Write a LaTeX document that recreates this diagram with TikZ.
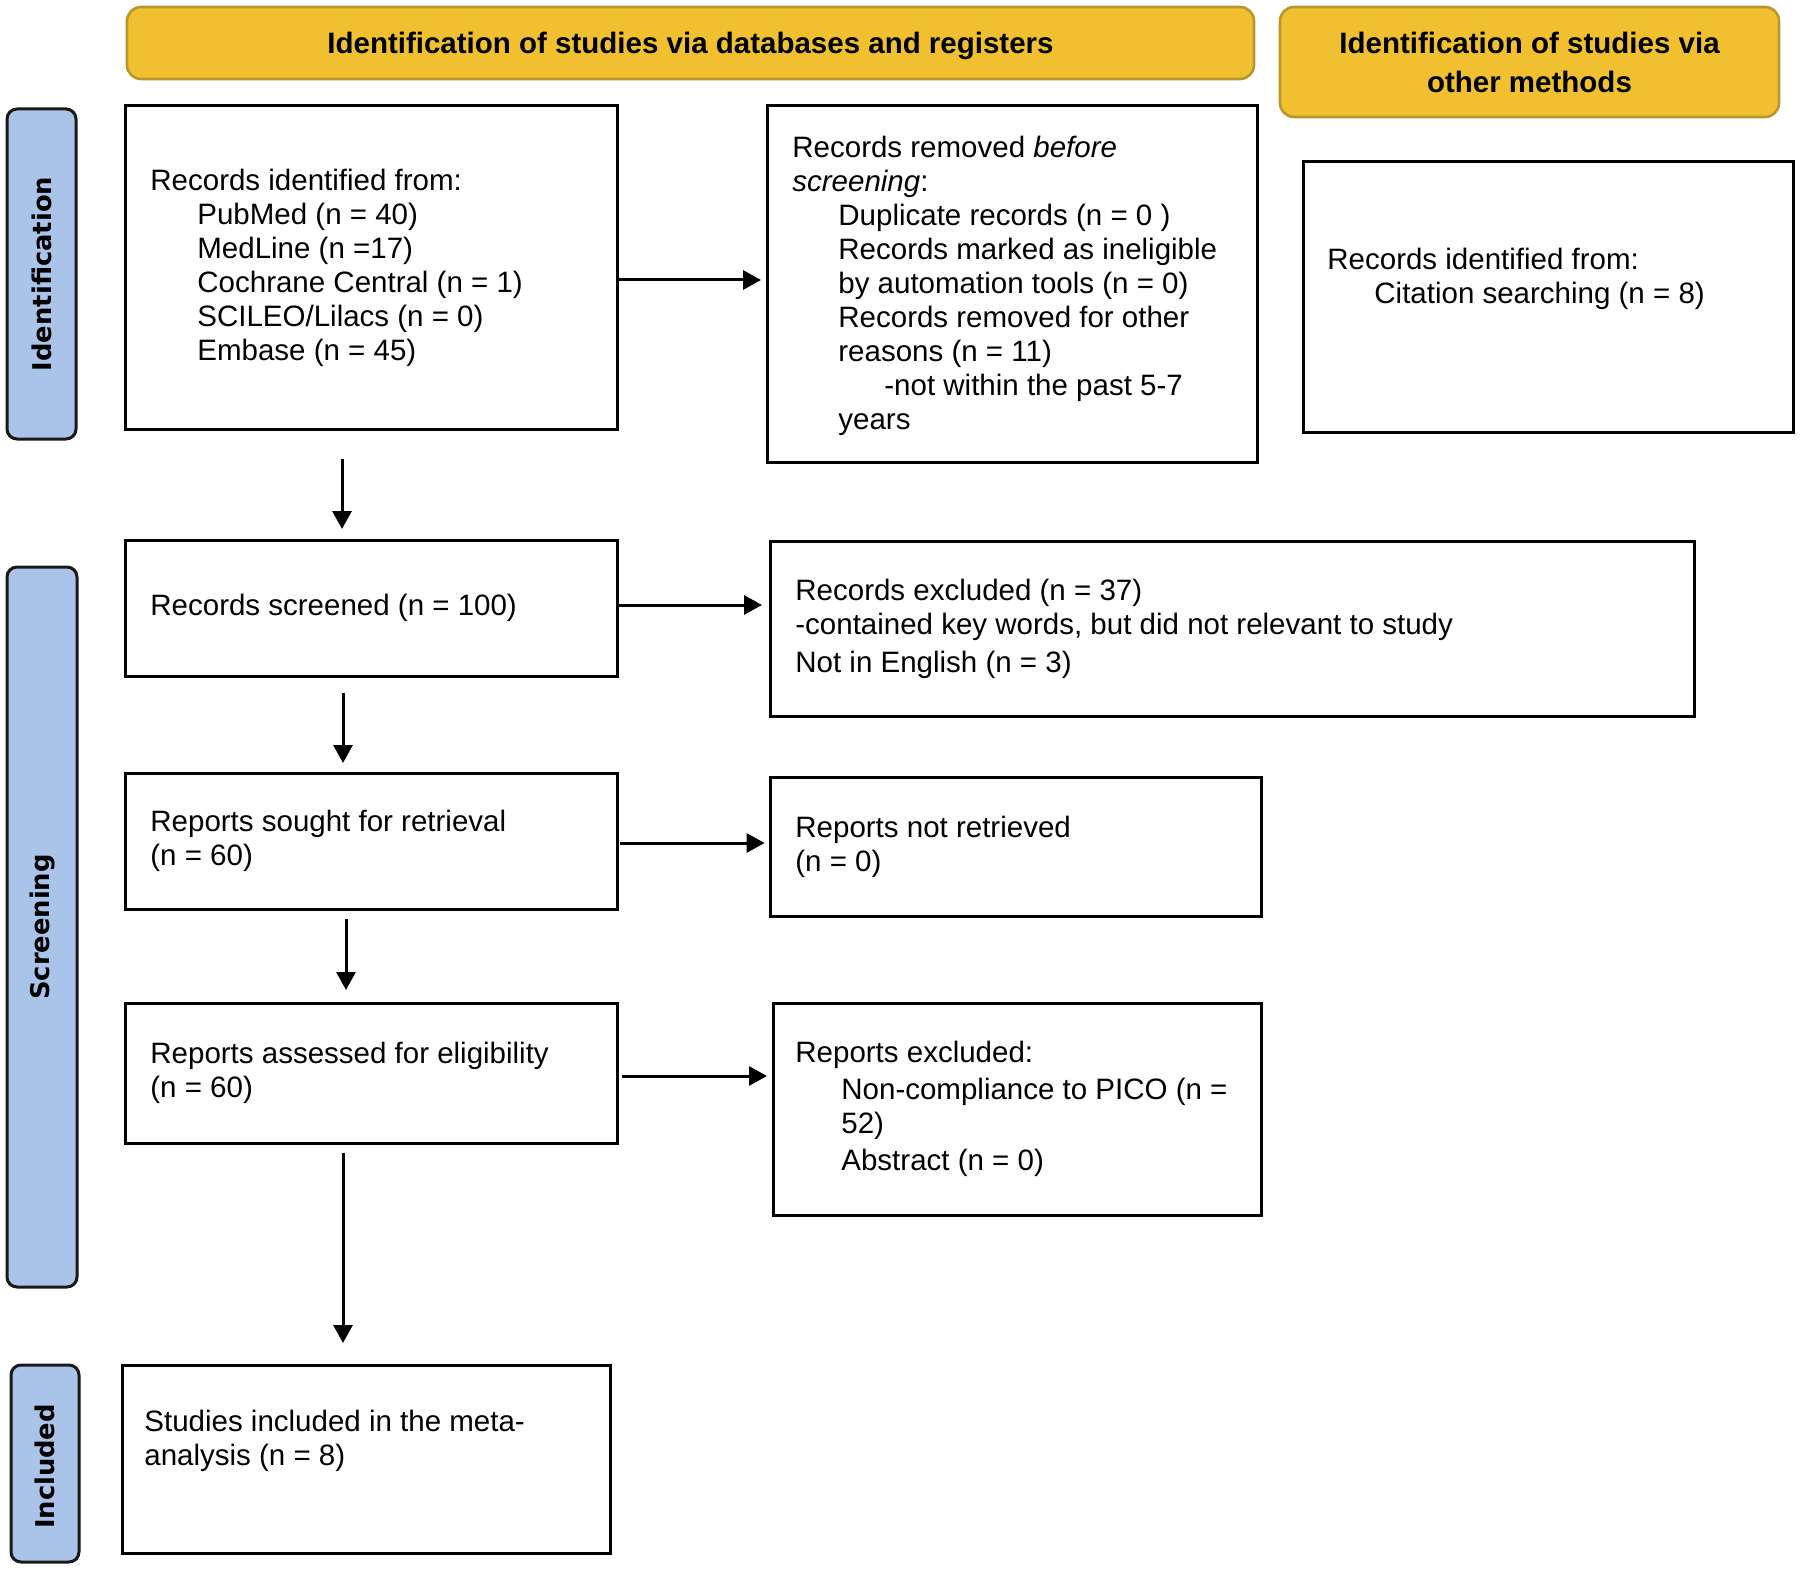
\documentclass[tikz,border=0pt]{standalone}
\usepackage{fontspec}
\setmainfont{Liberation Sans}
\newfontfamily\sidefont{DejaVu Sans}
\usetikzlibrary{arrows.meta}
\definecolor{hdrfill}{RGB}{240,192,48}
\definecolor{hdrdraw}{RGB}{185,150,45}
\definecolor{barfill}{RGB}{169,196,232}
\begin{document}
\begin{tikzpicture}[x=0.5pt,y=-0.5pt,
  box/.style={draw=black, line width=1.5pt, fill=white, inner sep=0pt, outer sep=0pt},
  txt/.style={anchor=west, align=left, inner sep=0pt, font=\fontsize{14.75}{17}\selectfont},
  hdr/.style={draw=hdrdraw, fill=hdrfill, line width=1.3pt, rounded corners=7pt, align=center, font=\fontsize{14.75}{19.5}\selectfont\bfseries, inner sep=0pt},
  bar/.style={draw=black!90, fill=barfill, line width=1.5pt, rounded corners=5pt, inner sep=0pt},
  barlbl/.style={rotate=90, font=\sidefont\fontsize{12.9}{15}\selectfont\bfseries, inner sep=0pt},
  arr/.style={line width=1.5pt, -{Triangle[length=9pt,width=9.5pt]}}
]
\useasboundingbox (0,0) rectangle (1800,1573);

% headers
\node[hdr, minimum width=563.5pt, minimum height=36pt] (h1) at (690.5,43) {};
\node[font=\fontsize{14.75}{19.5}\selectfont\bfseries, inner sep=0pt] (h1t) at ([yshift=-1.5pt]h1.center) {Identification of studies via databases and registers};
\node[hdr, minimum width=249.5pt, minimum height=55pt] (h2) at (1529.5,62) {Identification of studies via\\other methods};

% side bars
\node[bar, minimum width=34.5pt, minimum height=165pt] (bid) at (41.5,274) {};
\node[barlbl] (bidl) at (bid.center) {Identification};
\node[bar, minimum width=35pt, minimum height=360pt] (bsc) at (42,927) {};
\node[barlbl] (bscl) at (bsc.center) {Screening};
\node[bar, minimum width=34pt, minimum height=98.5pt] (bin) at (45,1463.5) {};
\node[barlbl] (binl) at ([yshift=-1.5pt]bin.center) {Included};

% boxes
\node[box, minimum width=246pt, minimum height=161.5pt] (idb) at (371,267.5) {};
\node[txt] (idbt) at ([xshift=12.5pt]idb.west) {Records identified from:\\
\hspace*{23.5pt}PubMed (n = 40)\\
\hspace*{23.5pt}MedLine (n =17)\\
\hspace*{23.5pt}Cochrane Central (n = 1)\\
\hspace*{23.5pt}SCILEO/Lilacs (n = 0)\\
\hspace*{23.5pt}Embase (n = 45)};

\node[box, minimum width=245pt, minimum height=178pt] (rem) at (1012,284) {};
\node[txt] (remt) at ([xshift=12.5pt,yshift=-1pt]rem.west) {Records removed \textit{before}\\
\textit{screening}:\\
\hspace*{23pt}Duplicate records (n = 0 )\\
\hspace*{23pt}Records marked as ineligible\\
\hspace*{23pt}by automation tools (n = 0)\\
\hspace*{23pt}Records removed for other\\
\hspace*{23pt}reasons (n = 11)\\
\hspace*{46pt}-not within the past 5-7\\
\hspace*{23pt}years};

\node[box, minimum width=245pt, minimum height=135pt] (oth) at (1548,297) {};
\node[txt] (otht) at ([xshift=12pt,yshift=9pt]oth.west) {Records identified from:\\
\hspace*{23.5pt}Citation searching (n = 8)};

\node[box, minimum width=246pt, minimum height=68pt] (scr) at (371,608) {};
\node[txt] (scrt) at ([xshift=12.5pt]scr.west) {Records screened (n = 100)};

\node[box, minimum width=462pt, minimum height=87.5pt] (exc) at (1232,628.5) {};
\node[txt] (exct) at ([xshift=12.5pt]exc.west) {Records excluded (n = 37)\\
-contained key words, but did not relevant to study\\[2pt]
Not in English (n = 3)};

\node[box, minimum width=246pt, minimum height=68pt] (sou) at (371,841) {};
\node[txt] (sout) at ([xshift=12.5pt]sou.west) {Reports sought for retrieval\\(n = 60)};

\node[box, minimum width=245.5pt, minimum height=69.5pt] (nrt) at (1015.5,846.5) {};
\node[txt] (nrtt) at ([xshift=12.5pt]nrt.west) {Reports not retrieved\\(n = 0)};

\node[box, minimum width=246pt, minimum height=70pt] (asd) at (371,1073) {};
\node[txt] (asdt) at ([xshift=12.5pt]asd.west) {Reports assessed for eligibility\\(n = 60)};

\node[box, minimum width=244pt, minimum height=106pt] (rex) at (1017,1109) {};
\node[txt] (rext) at ([xshift=11pt]rex.west) {Reports excluded:\\[1.5pt]
\hspace*{23pt}Non-compliance to PICO (n =\\
\hspace*{23pt}52)\\[1.5pt]
\hspace*{23pt}Abstract (n = 0)};

\node[box, minimum width=244pt, minimum height=94pt] (inc) at (366,1459) {};
\node[txt] (inct) at ([xshift=11pt,yshift=9pt]inc.west) {Studies included in the meta-\\analysis (n = 8)};

% horizontal arrows
\coordinate (a1) at ([yshift=-6.25pt]idb.east);
\draw[arr, shorten >=3pt] (a1) -- (a1 -| rem.west);
\coordinate (a2) at ([yshift=1.5pt]scr.east);
\draw[arr, shorten >=4pt] (a2) -- (a2 -| exc.west);
\coordinate (a3) at ([yshift=-1pt]sou.east);
\draw[arr, shorten <=1.5pt, shorten >=2.7pt] (a3) -- (a3 -| nrt.west);
\coordinate (a4) at ([yshift=-1.5pt]asd.east);
\draw[arr, shorten <=2.5pt, shorten >=3pt] (a4) -- (a4 -| rex.west);

% vertical arrows
\draw[arr, shorten <=15pt, shorten >=5.5pt] ([xshift=-14.5pt]idb.south) -- ([xshift=-14.5pt]scr.north);
\draw[arr, shorten <=8.5pt, shorten >=5pt] ([xshift=-14pt]scr.south) -- ([xshift=-14pt]sou.north);
\draw[arr, shorten <=5pt, shorten >=6.5pt] ([xshift=-12.5pt]sou.south) -- ([xshift=-12.5pt]asd.north);
\coordinate (v4) at ([xshift=-14pt]asd.south);
\draw[arr, shorten <=5pt, shorten >=11pt] (v4) -- (v4 |- inc.north);
\end{tikzpicture}
\end{document}
